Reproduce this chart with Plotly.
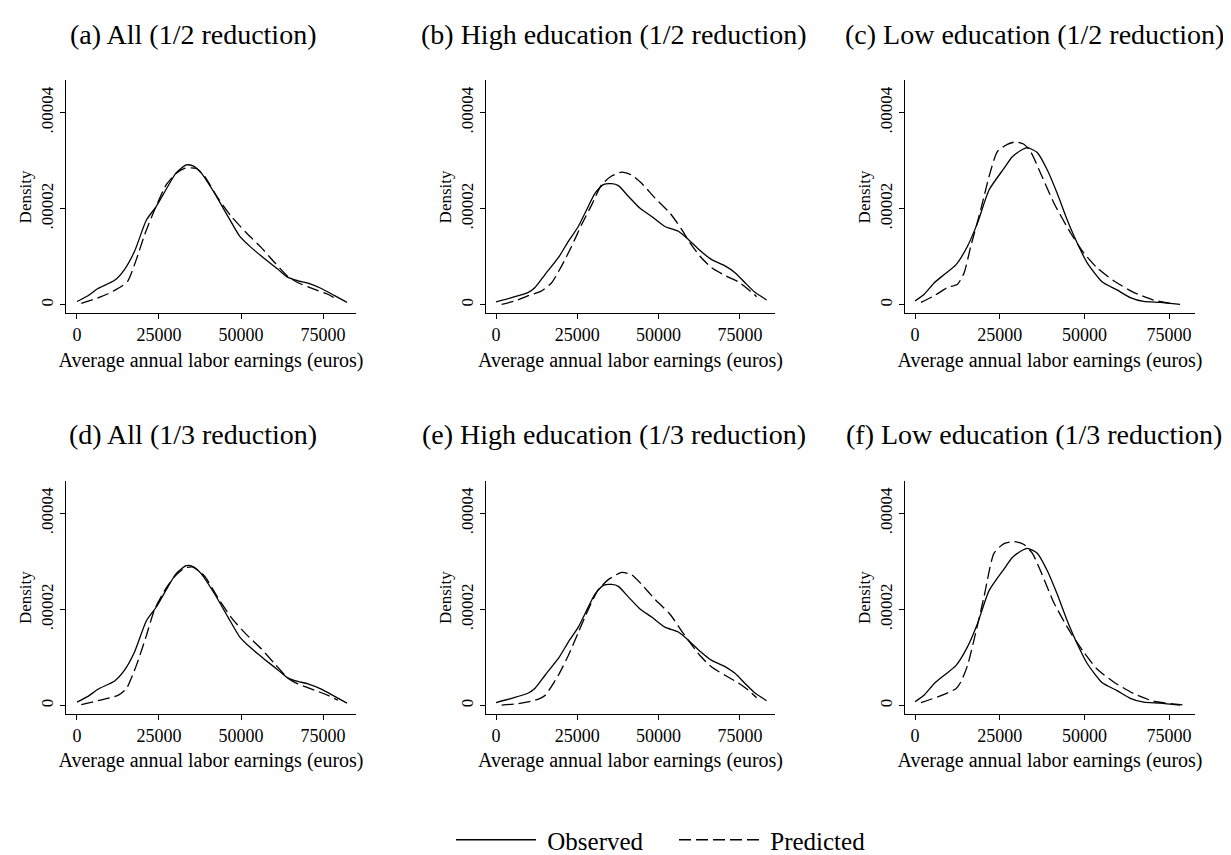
import plotly.graph_objects as go

# ---------------- data (density values in units of 1e-6) ----------------
DENSITY_UNIT = 1e-6

# All workers
all_obs_x = [0, 3350, 6400, 11480, 14530, 17580, 21130, 24180, 27230, 30280, 33330, 35360, 37900,
             41970, 46030, 49590, 53140, 57200, 61270, 64320, 67370, 70420, 74480, 78550, 82300]
all_obs_y = [0.7, 1.9, 3.4, 5.1, 7.4, 11.2, 17.6, 20.5, 24.1, 27.5, 29.1, 28.9, 27.4,
             23.2, 18.4, 14.3, 11.9, 9.6, 7.4, 5.7, 5.0, 4.5, 3.4, 1.9, 0.5]
all_pred_half_x = [1320, 5380, 9450, 13510, 15540, 18080, 20620, 23670, 27230, 30280, 32820, 36380,
                   38920, 42980, 47050, 51620, 56190, 60260, 64320, 67370, 72450, 76510, 79560]
all_pred_half_y = [0.3, 1.2, 2.3, 3.8, 5.0, 9.4, 14.6, 19.8, 25.0, 27.4, 28.4, 28.4,
                   26.7, 22.2, 18.4, 15.0, 11.9, 8.8, 5.9, 4.6, 3.2, 2.2, 1.0]
all_pred_third_x = [1320, 6400, 12500, 15040, 18080, 21130, 23670, 27230, 30280, 32820, 35360, 38920,
                    42980, 47050, 51620, 56190, 60260, 64320, 67370, 72450, 76510, 79560]
all_pred_third_y = [0.2, 1.0, 2.1, 3.5, 8.3, 14.5, 20.0, 24.5, 27.2, 28.6, 28.8, 26.9,
                    22.4, 18.3, 14.8, 11.8, 8.7, 5.7, 4.5, 3.2, 2.1, 1.1]

# High education
high_obs_x = [0, 4800, 9940, 12000, 15070, 19170, 22240, 25320, 27880, 30440, 33000, 35570, 37620,
              40700, 44290, 47870, 51970, 56070, 59150, 62740, 66320, 70420, 73500, 76570, 79650, 83230]
high_obs_y = [0.6, 1.5, 2.6, 3.6, 6.3, 9.8, 13.2, 16.3, 19.8, 23.2, 25.0, 25.2, 24.8,
              22.6, 20.1, 18.4, 16.3, 15.3, 13.6, 11.3, 9.4, 8.1, 6.7, 4.6, 2.6, 1.0]
high_pred_half_x = [1740, 5840, 9940, 14040, 17120, 20190, 23270, 26340, 29420, 32490, 35570, 38640,
                    41720, 44790, 48890, 53500, 57090, 59650, 62730, 66320, 70420, 74520, 77600, 80160]
high_pred_half_y = [0.1, 0.8, 1.9, 2.9, 4.6, 8.1, 12.2, 16.7, 20.8, 25.0, 26.8, 27.6,
                    27.0, 25.3, 22.2, 19.1, 15.7, 12.9, 10.1, 7.7, 6.1, 4.8, 3.2, 1.7]
high_pred_third_x = [1740, 6870, 12000, 15070, 19170, 22240, 25320, 28390, 31470, 34540, 38640, 41720,
                     44790, 48890, 53500, 57090, 59650, 62730, 66320, 70420, 74520, 77600, 80160]
high_pred_third_y = [0.1, 0.4, 1.1, 2.1, 6.3, 10.4, 15.2, 20.0, 24.1, 26.2, 27.7, 27.2,
                     25.2, 22.1, 19.0, 15.5, 13.1, 10.4, 8.0, 6.3, 4.7, 3.2, 1.6]

# Low education
low_obs_x = [0, 2740, 5690, 8630, 12060, 15490, 18430, 21860, 26270, 28730, 31180, 33140, 36080,
             39020, 41960, 44900, 47840, 50780, 55200, 59610, 63530, 67450, 72350, 78240]
low_obs_y = [0.8, 2.2, 4.6, 6.3, 8.3, 12.2, 17.0, 23.9, 28.4, 30.8, 32.1, 32.7, 31.7,
             28.1, 23.2, 17.7, 12.9, 8.8, 4.8, 3.1, 1.5, 0.7, 0.5, 0.1]
low_pred_half_x = [1760, 5690, 9600, 12550, 14510, 16470, 19410, 21860, 24310, 27250, 29700, 32160,
                   34120, 37060, 40980, 45880, 49800, 53730, 58630, 64510, 70390, 75290]
low_pred_half_y = [0.5, 1.9, 3.6, 4.3, 6.7, 12.2, 19.8, 26.7, 31.9, 33.4, 33.9, 33.4,
                   31.9, 27.4, 21.2, 15.0, 10.8, 7.7, 5.0, 2.6, 1.0, 0.3]
low_pred_third_x = [1760, 6670, 12060, 13530, 15490, 17940, 20390, 23330, 26270, 29210, 32160, 34610,
                    37550, 40980, 45880, 49800, 53730, 58630, 64510, 70390, 75290, 79700]
low_pred_third_y = [0.6, 1.8, 3.5, 4.9, 8.3, 15.2, 22.7, 31.7, 33.7, 34.1, 33.5, 31.7,
                    27.2, 21.4, 15.2, 11.1, 7.6, 4.9, 2.5, 0.9, 0.4, 0.1]

panel_titles = ["(a) All (1/2 reduction)", "(b) High education (1/2 reduction)",
                "(c) Low education (1/2 reduction)", "(d) All (1/3 reduction)",
                "(e) High education (1/3 reduction)", "(f) Low education (1/3 reduction)"]
x_tick_vals = [0, 25000, 50000, 75000]
x_tick_text = ["0", "25000", "50000", "75000"]
y_tick_vals = [0, 0.00002, 0.00004]
y_tick_text = ["0", ".00002", ".00004"]
x_title = "Average annual labor earnings (euros)"
y_title = "Density"
series_names = ["Observed", "Predicted"]

panels = [
    (all_obs_x, all_obs_y, all_pred_half_x, all_pred_half_y),
    (high_obs_x, high_obs_y, high_pred_half_x, high_pred_half_y),
    (low_obs_x, low_obs_y, low_pred_half_x, low_pred_half_y),
    (all_obs_x, all_obs_y, all_pred_third_x, all_pred_third_y),
    (high_obs_x, high_obs_y, high_pred_third_x, high_pred_third_y),
    (low_obs_x, low_obs_y, low_pred_third_x, low_pred_third_y),
]

# ---------------- layout geometry ----------------
W, H = 1231, 855
FONT = "Liberation Serif"
col_px = [(58, 348), (478, 767), (897, 1187)]
row_px = [(73, 308), (477, 712)]
x_ranges = [[-3350, 85060], [-3075, 85800], [-2950, 82640]]
y_range = [-1.8e-6, 46.7e-6]
title_cx = [185, 606, 1026]
title_cy = [27, 430]
NBSP = "\u00a0"

fig = go.Figure()
layout = dict(
    width=W, height=H, margin=dict(l=0, r=0, t=0, b=0),
    paper_bgcolor="white", plot_bgcolor="white",
    font=dict(family=FONT, color="black"),
    showlegend=True,
    legend=dict(orientation="h", x=443 / W, xanchor="left", y=1 - 839 / H, yanchor="middle",
                font=dict(size=25, family=FONT), itemwidth=80, tracegroupgap=0,
                entrywidth=128, entrywidthmode="pixels"),
    annotations=[],
)

for i, (ox, oy, px_, py) in enumerate(panels):
    r, c = divmod(i, 3)
    xa = "x" if i == 0 else f"x{i + 1}"
    ya = "y" if i == 0 else f"y{i + 1}"
    fig.add_trace(go.Scatter(
        x=ox, y=[v * DENSITY_UNIT for v in oy], xaxis=xa, yaxis=ya, mode="lines",
        line=dict(color="black", width=1.3, shape="spline", smoothing=0.6),
        name=NBSP + series_names[0], legendgroup="obs", showlegend=(i == 0), hoverinfo="skip"))
    fig.add_trace(go.Scatter(
        x=px_, y=[v * DENSITY_UNIT for v in py], xaxis=xa, yaxis=ya, mode="lines",
        line=dict(color="black", width=1.3, dash="12px,5px", shape="spline", smoothing=0.6),
        name=NBSP + series_names[1], legendgroup="pred", showlegend=(i == 0), hoverinfo="skip"))

    x0, x1 = col_px[c]
    y0, y1 = row_px[r]
    xkey = "xaxis" if i == 0 else f"xaxis{i + 1}"
    ykey = "yaxis" if i == 0 else f"yaxis{i + 1}"
    layout[xkey] = dict(
        domain=[x0 / W, x1 / W], anchor=ya, range=x_ranges[c],
        tickvals=x_tick_vals, ticktext=x_tick_text, ticks="outside", ticklen=5,
        tickcolor="black", showline=True, linecolor="black", linewidth=1,
        showgrid=False, zeroline=False, tickfont=dict(size=18, family=FONT),
        title=dict(text=x_title, font=dict(size=20, family=FONT), standoff=8))
    layout[ykey] = dict(
        domain=[1 - y1 / H, 1 - y0 / H], anchor=xa, range=y_range,
        tickvals=y_tick_vals, ticktext=y_tick_text, tickangle=-90, ticks="outside", ticklen=5,
        tickcolor="black", showline=True, linecolor="black", linewidth=1,
        showgrid=False, zeroline=False, tickfont=dict(size=17, family=FONT),
        title=dict(text=y_title, font=dict(size=17, family=FONT), standoff=2))
    layout["annotations"].append(dict(
        text=panel_titles[i], xref="paper", yref="paper", x=title_cx[c] / W, y=1 - title_cy[r] / H,
        xanchor="center", yanchor="middle", showarrow=False, font=dict(size=28, family=FONT)))

fig.update_layout(**layout)
fig.write_html("out.html")
